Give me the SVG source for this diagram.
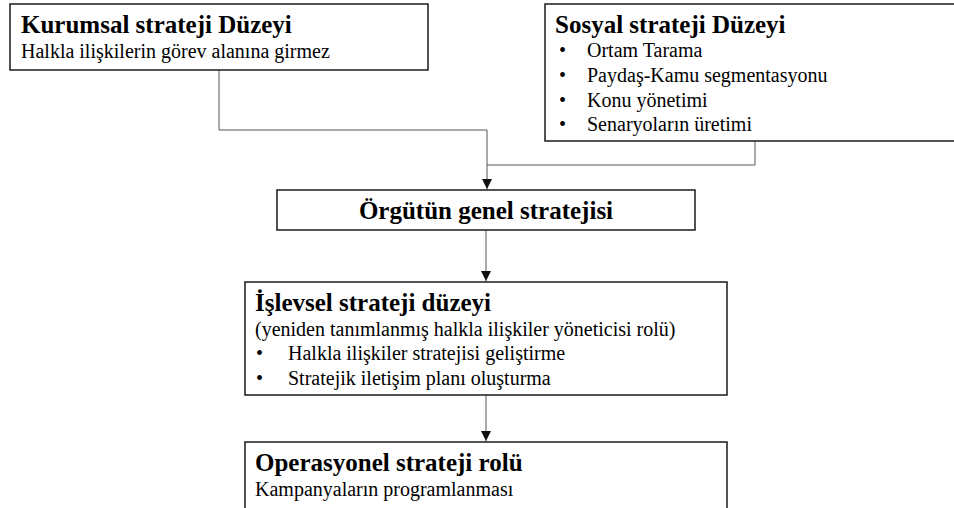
<svg xmlns="http://www.w3.org/2000/svg" width="954" height="508" viewBox="0 0 954 508">
<defs>
<style>
.box{fill:#fff;stroke:#1a1a1a;stroke-width:1.5}
.t{font-family:"Liberation Serif","Times New Roman",serif;font-size:25px;font-weight:bold;fill:#000}
.s{font-family:"Liberation Serif","Times New Roman",serif;font-size:20px;fill:#000}
.c{fill:none;stroke:#555;stroke-width:1}
</style>
<marker id="arr" markerWidth="10" markerHeight="11" refX="10" refY="5" orient="auto" markerUnits="userSpaceOnUse" viewBox="0 0 10 10">
<path d="M0,0 L10,5 L0,10 Z" fill="#111"/>
</marker>
</defs>
<rect width="954" height="508" fill="#fff"/>
<g id="connectors">
<path class="c" d="M219,70 V130 H487 V165"/>
<path class="c" d="M755,141 V165 H487 V189" marker-end="url(#arr)"/>
<path class="c" d="M486,230 V281" marker-end="url(#arr)"/>
<path class="c" d="M486,395 V441" marker-end="url(#arr)"/>
</g>
<g id="kurumsal">
<rect class="box" x="10" y="4" width="418" height="66"/>
<text class="t" x="21" y="33">Kurumsal strateji Düzeyi</text>
<text class="s" x="21" y="58">Halkla ilişkilerin görev alanına girmez</text>
</g>
<g id="sosyal">
<rect class="box" x="545" y="4" width="420" height="137"/>
<text class="t" x="555" y="33">Sosyal strateji Düzeyi</text>
<text class="s" x="559" y="57">•</text><text class="s" x="587" y="57">Ortam Tarama</text>
<text class="s" x="559" y="82">•</text><text class="s" x="587" y="82">Paydaş-Kamu segmentasyonu</text>
<text class="s" x="559" y="107">•</text><text class="s" x="587" y="107">Konu yönetimi</text>
<text class="s" x="559" y="131">•</text><text class="s" x="587" y="131">Senaryoların üretimi</text>
</g>
<g id="orgutun">
<rect class="box" x="277" y="190" width="418" height="40"/>
<text class="t" x="486" y="219" text-anchor="middle">Örgütün genel stratejisi</text>
</g>
<g id="islevsel">
<rect class="box" x="245" y="282" width="482" height="113"/>
<text class="t" x="255" y="311">İşlevsel strateji düzeyi</text>
<text class="s" x="255" y="336">(yeniden tanımlanmış halkla ilişkiler yöneticisi rolü)</text>
<text class="s" x="256" y="360">•</text><text class="s" x="288" y="360">Halkla ilişkiler stratejisi geliştirme</text>
<text class="s" x="256" y="385">•</text><text class="s" x="288" y="385">Stratejik iletişim planı oluşturma</text>
</g>
<g id="operasyonel">
<rect class="box" x="245" y="442" width="482" height="80"/>
<text class="t" x="255" y="471">Operasyonel strateji rolü</text>
<text class="s" x="255" y="496">Kampanyaların programlanması</text>
</g>
</svg>
